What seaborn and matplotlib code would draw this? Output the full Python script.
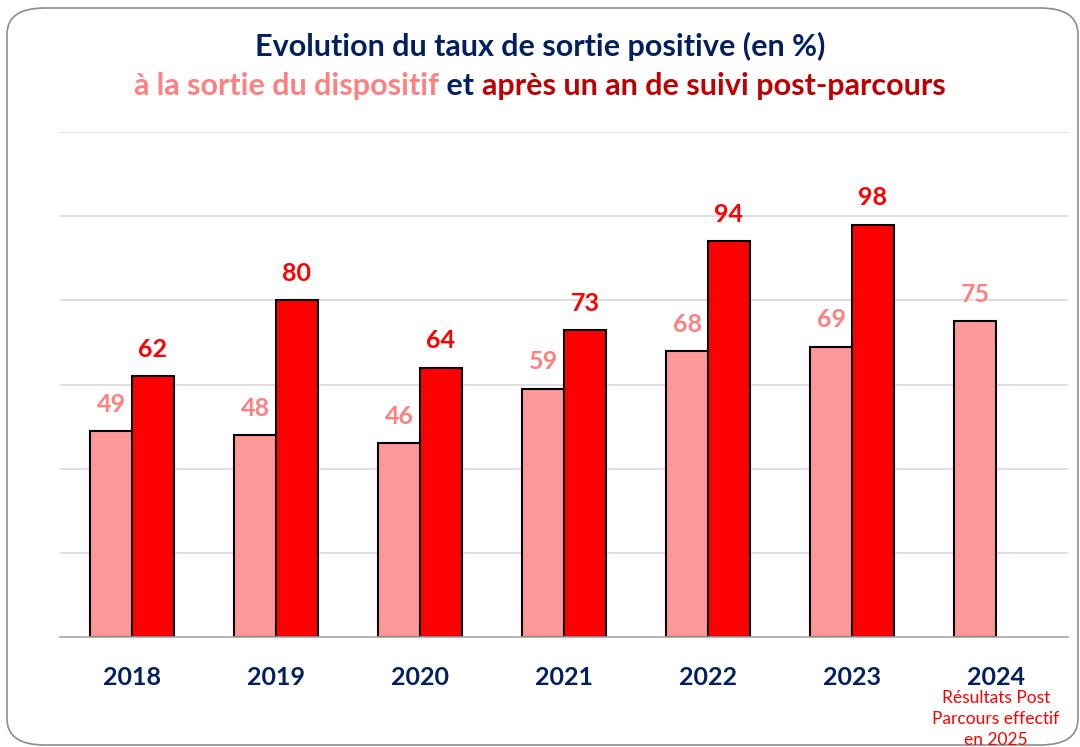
import matplotlib
matplotlib.use("Agg")
import matplotlib.pyplot as plt
import seaborn as sns
import pandas as pd
import numpy as np
from matplotlib.patches import FancyBboxPatch
from matplotlib import transforms

years = ["2018", "2019", "2020", "2021", "2022", "2023", "2024"]
sortie = [49, 48, 46, 59, 68, 69, 75]
suivi = [62, 80, 64, 73, 94, 98, np.nan]
series = ["sortie", "suivi"]

PINK = "#FF9999"
RED = "#FF0000"
PINK_TXT = "#FF8080"
NAVY = "#002060"
DARKRED = "#C00000"

df = pd.DataFrame({
    "year": years * 2,
    "value": sortie + suivi,
    "serie": [series[0]] * len(years) + [series[1]] * len(years),
})

sns.set_theme(style="white")
plt.rcParams["font.family"] = ["Lato", "DejaVu Sans"]

fig = plt.figure(figsize=(10.8, 7.47), dpi=100)
ax = fig.add_axes([60 / 1080, 110 / 747, 1008 / 1080, 505 / 747])

sns.barplot(data=df, x="year", y="value", hue="serie", order=years,
            hue_order=series, palette=[PINK, RED], width=0.58,
            edgecolor="black", linewidth=1.5, saturation=1, ax=ax, legend=False)

ax.set_ylim(0, 120)
ax.set_yticks([20, 40, 60, 80, 100, 120])
ax.yaxis.grid(True, color="#D9D9D9", linewidth=1.2)
ax.set_axisbelow(True)
ax.set_yticklabels([])
ax.tick_params(axis="y", length=0)
ax.set_xlim(-0.5, 6.5)
for s in ["top", "right", "left"]:
    ax.spines[s].set_visible(False)
ax.spines["bottom"].set_color("#A6A6A6")
ax.spines["bottom"].set_linewidth(1.2)
ax.set_xlabel("")
ax.set_ylabel("")
ax.tick_params(axis="x", length=0, pad=21)
for lab in ax.get_xticklabels():
    lab.set_fontsize(18)
    lab.set_fontweight("bold")
    lab.set_color(NAVY)

# value labels
for ci, cont in enumerate(ax.containers):
    col = PINK_TXT if ci == 0 else RED
    for bar in cont:
        h = bar.get_height()
        if np.isnan(h) or h == 0:
            continue
        ax.annotate(f"{h:.0f}", (bar.get_x() + bar.get_width() / 2, h),
                    xytext=(0, 11), textcoords="offset points",
                    ha="center", va="bottom", fontsize=18,
                    fontweight="bold", color=col)

# note under 2024
trans = transforms.blended_transform_factory(ax.transData, fig.transFigure)
ax.text(6, 1 - 719 / 747, "Résultats Post\nParcours effectif\nen 2025",
        transform=trans, ha="center", va="center", fontsize=12.5,
        color=RED, linespacing=1.35, clip_on=False)

# titles
fig.text(0.5, 1 - 46 / 747, "Evolution du taux de sortie positive (en %)",
         ha="center", va="center", fontsize=22, fontweight="bold", color=NAVY)

parts = [("à la sortie du dispositif", PINK_TXT), (" et ", NAVY),
         ("après un an de suivi post-parcours", DARKRED)]
renderer = fig.canvas.get_renderer()
texts = []
widths = []
for s, c in parts:
    t = fig.text(0, 1 - 86 / 747, s, ha="left", va="center", fontsize=22,
                 fontweight="bold", color=c)
    bb = t.get_window_extent(renderer=renderer)
    texts.append(t)
    widths.append(bb.width)
total = sum(widths)
x0 = (1080 - total) / 2
for t, w in zip(texts, widths):
    t.set_x(x0 / 1080)
    x0 += w

# rounded frame
frame = FancyBboxPatch((7 / 1080, 2 / 747), 1071 / 1080, 737 / 747,
                       boxstyle="round,pad=0,rounding_size=0.035",
                       transform=fig.transFigure, facecolor="none",
                       edgecolor="#8C8C8C", linewidth=1.2, zorder=-1)
fig.patches.append(frame)

fig.savefig("out.png", dpi=100)
